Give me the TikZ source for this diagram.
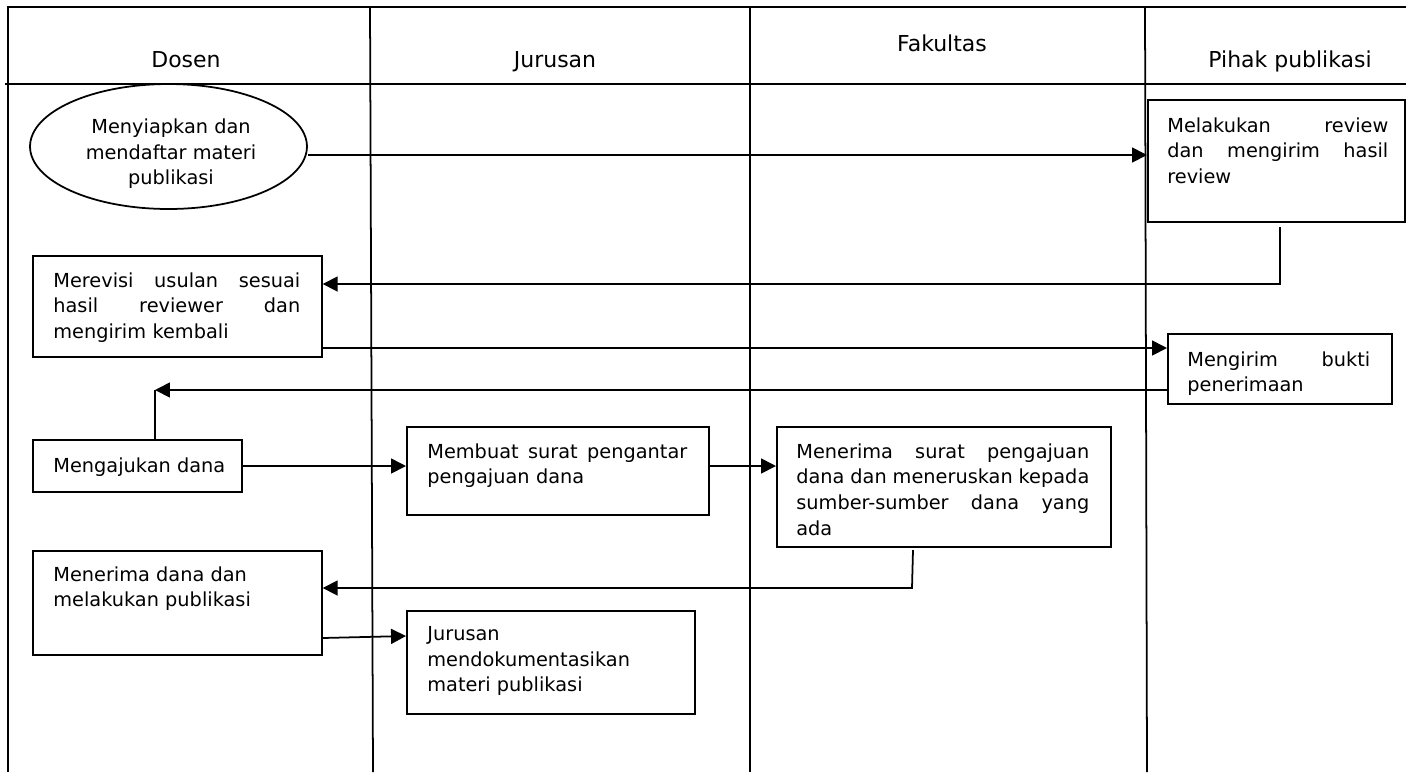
\documentclass[tikz,border=0pt]{standalone}
\usepackage{fontspec}
\setmainfont{DejaVu Sans}
\usetikzlibrary{arrows.meta,shapes.geometric}
\tikzset{
  lane/.style={line width=1pt},
  box/.style={draw,line width=1pt,rectangle,inner sep=0pt,anchor=north west},
  oval/.style={draw,line width=1pt,ellipse,inner sep=0pt},
  txt/.style={inner sep=0pt,anchor=north west,align=left,font=\fontsize{11}{14.6}\selectfont},
  ctxt/.style={inner sep=0pt,align=center,font=\fontsize{11}{14.6}\selectfont},
  head/.style={inner sep=0pt,anchor=base,font=\fontsize{12.5}{15}\selectfont},
  arr/.style={line width=1pt,-{Triangle[length=8.5pt,width=8.5pt]}},
  con/.style={line width=1pt},
}
\begin{document}
\begin{tikzpicture}[x=0.02cm,y=-0.02cm]
\useasboundingbox (0,0) rectangle (1406,772);
% frame and lanes
\draw[lane] (8,772) -- (8,7) -- (1406,7);
\draw[lane] (5,84) -- (1406,84);
\draw[lane] (370,7) -- (373,772);
\draw[lane] (750,7) -- (750,772);
\draw[lane] (1145,7) -- (1147,772);
% headers
\node[head] (h1) at (186,67) {Dosen};
\node[head] (h2) at (555,67) {Jurusan};
\node[head] (h3) at (942,51) {Fakultas};
\node[head] (h4) at (1290,67) {Pihak publikasi};
% shapes
\node[oval,minimum width=5.54cm,minimum height=2.50cm] (ell) at (168.5,146.5) {};
\node[ctxt] (ellt) at (171,154) {Menyiapkan dan\\mendaftar materi\\publikasi};
\node[box,minimum width=5.14cm,minimum height=2.44cm] (rev) at (1147,99) {};
\node[txt,text width=4.42cm] (revt) at (1167,117) {Melakukan\hfill review\\dan\hfill mengirim\hfill hasil\\review};
\node[box,minimum width=5.78cm,minimum height=2.02cm] (rvs) at (32,255) {};
\node[txt,text width=4.94cm] (rvst) at (53,272) {Merevisi\hfill usulan\hfill sesuai\\hasil\hfill reviewer\hfill dan\\mengirim kembali};
\node[box,minimum width=4.48cm,minimum height=1.40cm] (bkt) at (1167,333) {};
\node[txt,text width=3.66cm] (bktt) at (1187,351) {Mengirim\hfill bukti\\penerimaan};
\node[box,minimum width=4.18cm,minimum height=1.04cm] (ajk) at (32,439) {};
\node[txt] (ajkt) at (53,457) {Mengajukan dana};
\node[box,minimum width=6.04cm,minimum height=1.76cm] (mbt) at (406,426) {};
\node[txt,text width=5.2cm] (mbtt) at (427,443) {Membuat\hfill surat\hfill pengantar\\pengajuan dana};
\node[box,minimum width=6.68cm,minimum height=2.40cm] (trm) at (776,426) {};
\node[txt,text width=5.86cm] (trmt) at (796,443) {Menerima\hfill surat\hfill pengajuan\\dana\hfill dan\hfill meneruskan\hfill kepada\\sumber-sumber\hfill dana\hfill yang\\ada};
\node[box,minimum width=5.78cm,minimum height=2.08cm] (dna) at (32,550) {};
\node[txt] (dnat) at (53,566) {Menerima dana dan\\melakukan publikasi};
\node[box,minimum width=5.76cm,minimum height=2.06cm] (dok) at (406,610) {};
\node[txt] (dokt) at (427,626) {Jurusan\\mendokumentasikan\\materi publikasi};
% helper coordinates
\coordinate (ya) at (0,155);
\coordinate (b1) at (1280,227);
\coordinate (b2) at (1280,284);
\coordinate (yc) at (0,348);
\coordinate (yd) at (0,390);
\coordinate (d1) at (155,390);
\coordinate (ye) at (0,466);
\coordinate (g1) at (913,550);
\coordinate (g2) at (912,588);
\coordinate (yh1) at (0,638);
\coordinate (yh2) at (0,636);
% connectors
\draw[arr] (ell.east |- ya) -- (rev.west |- ya);
\draw[arr] (b1) -- (b2) -- (rvs.east |- b2);
\draw[arr] (rvs.east |- yc) -- (bkt.west |- yc);
\draw[arr] (bkt.west |- yd) -- (d1);
\draw[con] (d1) -- (ajk.north -| d1);
\draw[arr] (ajk.east |- ye) -- (mbt.west |- ye);
\draw[arr] (mbt.east |- ye) -- (trm.west |- ye);
\draw[arr] (g1) -- (g2) -- (dna.east |- g2);
\draw[arr] (dna.east |- yh1) -- (dok.west |- yh2);
\end{tikzpicture}
\end{document}
